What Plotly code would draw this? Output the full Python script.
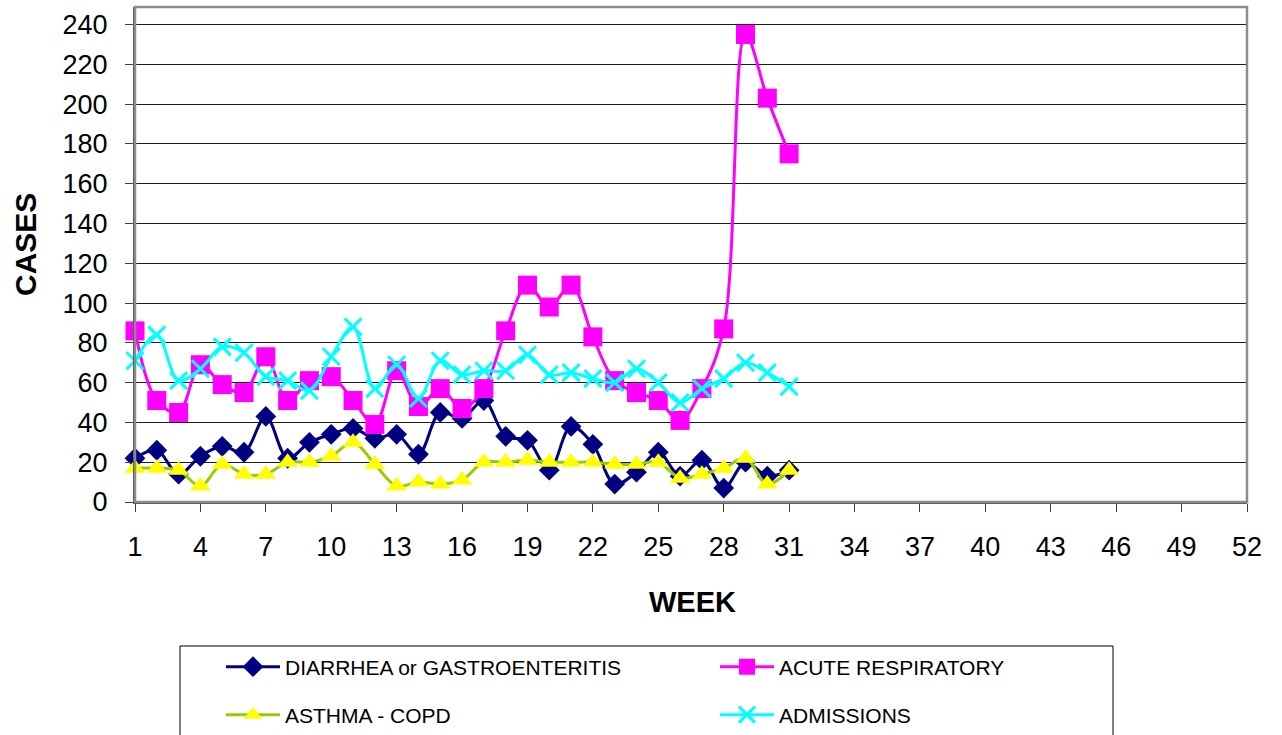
import plotly.graph_objects as go

weeks = list(range(1, 32))
diarrhea = [22, 26, 14, 23, 28, 25, 43, 22, 30, 34, 37, 32, 34, 24, 45, 42, 51, 33, 31, 16,
            38, 29, 9, 15, 25, 13, 21, 7, 20, 13, 16]
acute = [86, 51, 45, 69, 59, 55, 73, 51, 61, 63, 51, 39, 66, 48, 57, 47, 57, 86, 109, 98,
         109, 83, 61, 55, 51, 41, 57, 87, 235, 203, 175]
asthma = [17, 17, 16, 8, 19, 14, 14, 20, 20, 23, 30, 19, 8, 10, 9, 11, 20, 20, 21, 20,
          20, 20, 19, 19, 20, 12, 14, 17, 22, 9, 16]
admissions = [71, 84, 61, 67, 78, 75, 63, 61, 56, 73, 88, 57, 69, 52, 71, 64, 66, 66, 74, 64,
              65, 62, 60, 67, 60, 50, 57, 62, 70, 65, 58]

x_ticks = list(range(1, 53, 3))
y_ticks = list(range(0, 241, 20))

W, H = 1282, 735
ML, MR, MT, MB = 135, 35, 7, 233
PW = W - ML - MR
PH = H - MT - MB

def px_x(p):
    return (p - ML) / PW

def px_y(p):
    return (H - MB - p) / PH

FONT = "Liberation Sans, Arial, sans-serif"

fig = go.Figure()
fig.add_trace(go.Scatter(
    x=weeks, y=diarrhea, name="DIARRHEA or GASTROENTERITIS", mode="lines+markers",
    line=dict(color="#000080", width=3, shape="spline", smoothing=1.0),
    marker=dict(symbol="diamond", size=16, color="#000080"),
    cliponaxis=False, legend="legend"))
fig.add_trace(go.Scatter(
    x=weeks, y=acute, name="ACUTE RESPIRATORY", mode="lines+markers",
    line=dict(color="#FF00FF", width=3, shape="spline", smoothing=1.0),
    marker=dict(symbol="square", size=19, color="#FF00FF"),
    cliponaxis=False, legend="legend"))
fig.add_trace(go.Scatter(
    x=weeks, y=asthma, name="ASTHMA - COPD", mode="lines+markers",
    line=dict(color="#99CC00", width=3, shape="spline", smoothing=1.0),
    marker=dict(symbol="triangle-up", size=18, color="#FFFF00"),
    cliponaxis=False, legend="legend2"))
fig.add_trace(go.Scatter(
    x=weeks, y=admissions, name="ADMISSIONS", mode="lines+markers",
    line=dict(color="#00FFFF", width=3, shape="spline", smoothing=1.0),
    marker=dict(symbol="x-thin", size=17, color="#00FFFF",
                line=dict(color="#00FFFF", width=3)),
    cliponaxis=False, legend="legend2"))

legend_common = dict(
    orientation="h", xanchor="left", yanchor="middle",
    font=dict(family=FONT, size=21, color="#000000"),
    bgcolor="rgba(0,0,0,0)", borderwidth=0,
    itemwidth=54, entrywidth=425, itemclick=False,
)

fig.update_layout(
    width=W, height=H,
    margin=dict(l=ML, r=MR, t=MT, b=MB, pad=0, autoexpand=False),
    paper_bgcolor="white", plot_bgcolor="white",
    font=dict(family=FONT, size=24, color="#000000"),
    showlegend=True,
    legend=dict(x=px_x(221), y=px_y(667), **legend_common),
    legend2=dict(x=px_x(221), y=px_y(715), **legend_common),
    xaxis=dict(
        range=[1, 52], tickmode="array", tickvals=x_ticks,
        ticks="outside", ticklen=8, tickwidth=1, tickcolor="#404040",
        showline=True, linecolor="#505050", linewidth=2,
        showgrid=False, zeroline=False,
        tickfont=dict(family=FONT, size=27, color="#000000"),
        ticklabelstandoff=12,
    ),
    yaxis=dict(
        range=[0, 248.8], tickmode="array", tickvals=y_ticks,
        ticks="outside", ticklen=8, tickwidth=1, tickcolor="#404040",
        showline=True, linecolor="#505050", linewidth=2,
        showgrid=True, gridcolor="#1a1a1a", gridwidth=1,
        zeroline=False,
        tickfont=dict(family=FONT, size=27, color="#000000"),
        ticklabelstandoff=12,
    ),
    shapes=[
        dict(type="rect", xref="paper", yref="paper", x0=0, x1=1, y0=0, y1=1,
             line=dict(color="#8c8c8c", width=2.5), layer="above"),
        dict(type="rect", xref="paper", yref="paper",
             x0=px_x(180), x1=px_x(1113), y0=px_y(646), y1=px_y(745),
             line=dict(color="#000000", width=1), layer="above"),
    ],
    annotations=[
        dict(text="<b>CASES</b>", xref="paper", yref="paper", x=px_x(25), y=px_y(245),
             showarrow=False, textangle=-90, xanchor="center", yanchor="middle",
             font=dict(family=FONT, size=30, color="#000000")),
        dict(text="<b>WEEK</b>", xref="paper", yref="paper", x=px_x(692), y=px_y(602),
             showarrow=False, xanchor="center", yanchor="middle",
             font=dict(family=FONT, size=29, color="#000000")),
    ],
)

fig.write_html("out.html", config={"displayModeBar": False},
               post_script="document.body.style.margin='0';document.body.style.overflow='hidden';")
